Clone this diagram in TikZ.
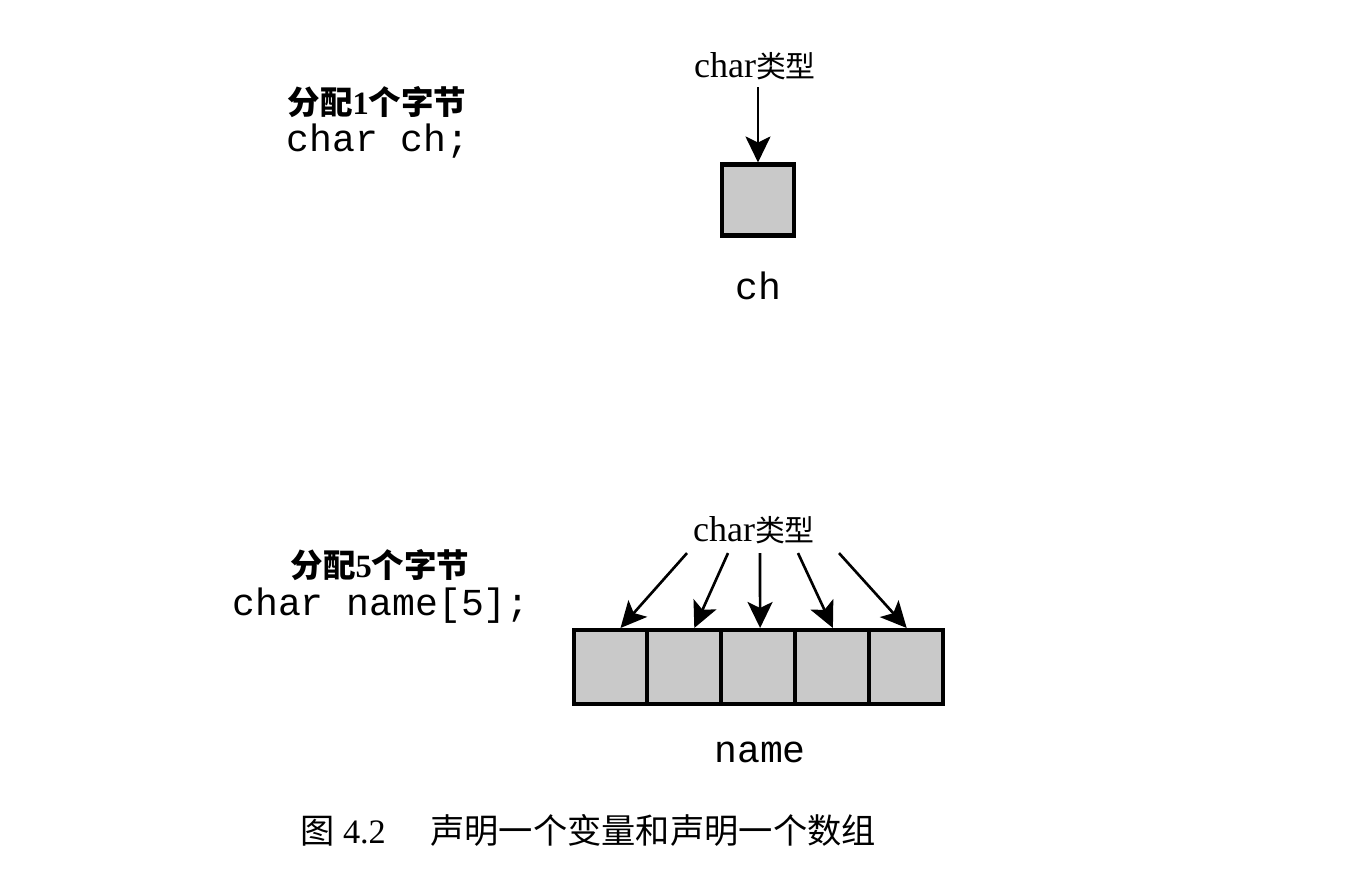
\documentclass[tikz,border=0pt]{standalone}
\usepackage{fontspec}
\setmainfont{Liberation Serif}
\setmonofont{Liberation Mono}
\newfontfamily\cjk{Noto Sans CJK SC}
\usetikzlibrary{arrows.meta,positioning,calc}

\tikzset{
  cell/.style={draw, line width=2.3pt, fill=black!21, minimum width=1.476cm,
    minimum height=1.48cm, inner sep=0pt},
  code/.style={font=\ttfamily\fontsize{21.7}{24}\selectfont, inner sep=0pt},
  note/.style={font=\bfseries\fontsize{18.5}{22}\selectfont, inner sep=0pt},
  tag/.style={font=\fontsize{20.5}{24}\selectfont, inner sep=0pt},
  caption/.style={font=\fontsize{19.5}{22}\selectfont, inner sep=0pt},
  pointer/.style={->, line width=1.5pt},
}
\newcommand{\chartype}{char{\cjk\fontsize{17}{20}\selectfont 类型}}

\begin{document}
\begin{tikzpicture}[x=0.02cm, y=-0.02cm, >={Stealth[length=0.52cm,width=0.5cm,inset=0.12cm]}]
    \useasboundingbox (0,0) rectangle (1349,877);

    % one char
    \node[note] (n1) at (377,102) {{\cjk 分配}1{\cjk 个字节}};
    \node[code] (c1) at (378,141) {char ch;};
    \node[tag] (t1) at (755,66) {\chartype};
    \node[cell, minimum width=1.44cm, minimum height=1.42cm] (ch) at (758,200) {};
    \node[code] (l1) at (758,286) {ch};
    \draw[pointer] ($(ch.north |- t1.south)+(0,7)$) -- (ch.north);

    % array of five
    \node[note] (n5) at (380,565) {{\cjk 分配}5{\cjk 个字节}};
    \node[code] (c5) at (381,606) {char name[5];};
    \node[tag] (t5) at (754,530) {\chartype};
    \foreach \i in {1,...,5}
        \node[cell] (b\i) at ({610.5+73.8*(\i-1)},667) {};
    \node[code] (l5) at (760,752) {name};

    \foreach \i/\sx/\ex in {1/-67/10, 2/-26/10, 3/6/2, 4/44/1, 5/85/1}
        \draw[pointer] ($(t5.south)+(\sx,9)$) -- ($(b\i.north)+(\ex,0)$);

    \node[caption] (cap) at (588,830) {{\cjk 图} 4.2\hspace{1.3em}{\cjk 声明一个变量和声明一个数组}};
\end{tikzpicture}
\end{document}
